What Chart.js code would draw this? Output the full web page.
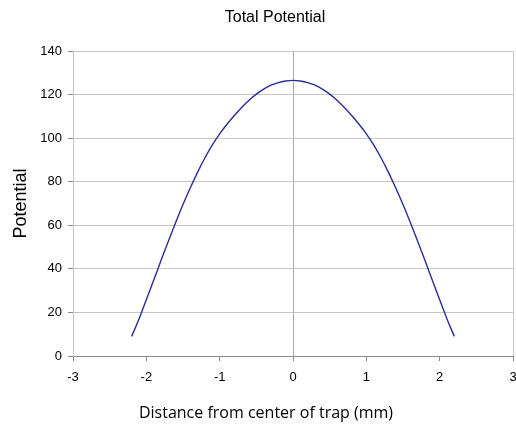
<!DOCTYPE html>
<html>
<head>
<meta charset="utf-8">
<script src="https://cdn.jsdelivr.net/npm/chart.js@4/dist/chart.umd.min.js"></script>
<style>
  html, body { margin: 0; padding: 0; background: #fff; }
</style>
</head>
<body>
<canvas id="myChart" width="516" height="428"></canvas>
<script>
const distance = [
  -2.2, -2.1, -2.0, -1.9, -1.8, -1.7, -1.6, -1.5, -1.4, -1.3, -1.2, -1.1, -1.0,
  -0.9, -0.8, -0.7, -0.6, -0.5, -0.4, -0.3, -0.2, -0.1, 0,
  0.1, 0.2, 0.3, 0.4, 0.5, 0.6, 0.7, 0.8, 0.9,
  1.0, 1.1, 1.2, 1.3, 1.4, 1.5, 1.6, 1.7, 1.8, 1.9, 2.0, 2.1, 2.2,
];
const potential = [
  9.0, 17.0, 25.8, 34.8, 43.8, 52.7, 61.3, 69.5, 77.2, 84.4, 91.0, 96.9, 102.0,
  106.4, 110.4, 114.1, 117.4, 120.2, 122.5, 124.3, 125.5, 126.2, 126.5,
  126.2, 125.5, 124.3, 122.5, 120.2, 117.4, 114.1, 110.4, 106.4,
  102.0, 96.9, 91.0, 84.4, 77.2, 69.5, 61.3, 52.7, 43.8, 34.8, 25.8, 17.0, 9.0,
];
const xRange = [-3, 3];
const yRange = [0, 140];

const points = distance.map((d, i) => ({ x: d, y: potential[i] }));

// chart title and x-axis title sit centred on the whole frame, not the plot
const titlesPlugin = {
  id: 'frameTitles',
  afterDraw(chart) {
    const c = chart.ctx;
    c.save();
    c.fillStyle = '#000';
    c.textAlign = 'center';
    c.textBaseline = 'middle';
    c.font = '16px "Liberation Sans", Arial, sans-serif';
    c.fillText('Total Potential', 275, 18);
    c.font = '16px "Open Sans", sans-serif';
    c.fillText('Distance from center of trap (mm)', 266, 413);
    c.restore();
  },
};

new Chart(document.getElementById('myChart'), {
  type: 'line',
  data: {
    datasets: [
      {
        label: 'Total Potential',
        data: points,
        borderColor: '#2b2b9c',
        borderWidth: 1.4,
        pointRadius: 0,
        cubicInterpolationMode: 'monotone',
        fill: false,
      },
    ],
  },
  plugins: [titlesPlugin],
  options: {
    responsive: false,
    animation: false,
    layout: {
      padding: { top: 51, right: 3, left: 0, bottom: 0 },
    },
    plugins: {
      legend: { display: false },
      tooltip: { enabled: false },
    },
    scales: {
      x: {
        type: 'linear',
        min: xRange[0],
        max: xRange[1],
        afterFit: (scale) => {
          scale.height = 72;
          scale.paddingRight = 0;
          scale.paddingLeft = 0;
        },
        ticks: {
          stepSize: 1,
          padding: 9,
          color: '#000',
          font: { family: '"Liberation Sans", Arial, sans-serif', size: 13 },
        },
        grid: {
          color: (ctx) => {
            const v = ctx.tick && ctx.tick.value;
            if (v === 0) return '#a8a8a8';
            if (v === 3) return '#c6c6c6';
            return 'rgba(0,0,0,0)';
          },
          tickColor: '#8a8a8a',
          tickLength: 5,
        },
        border: { color: '#8a8a8a' },
      },
      y: {
        min: yRange[0],
        max: yRange[1],
        afterFit: (scale) => {
          scale.width = 73;
          scale.paddingTop = 0;
        },
        ticks: {
          stepSize: 20,
          padding: 6,
          color: '#000',
          font: { family: '"Liberation Sans", Arial, sans-serif', size: 13 },
        },
        grid: {
          color: '#c6c6c6',
          tickColor: '#8a8a8a',
          tickLength: 5,
        },
        border: { color: '#c6c6c6' },
        title: {
          display: true,
          text: 'Potential',
          color: '#000',
          font: { family: '"Liberation Sans", Arial, sans-serif', size: 18 },
          padding: { top: 10, bottom: 0 },
        },
      },
    },
  },
});
</script>
</body>
</html>
